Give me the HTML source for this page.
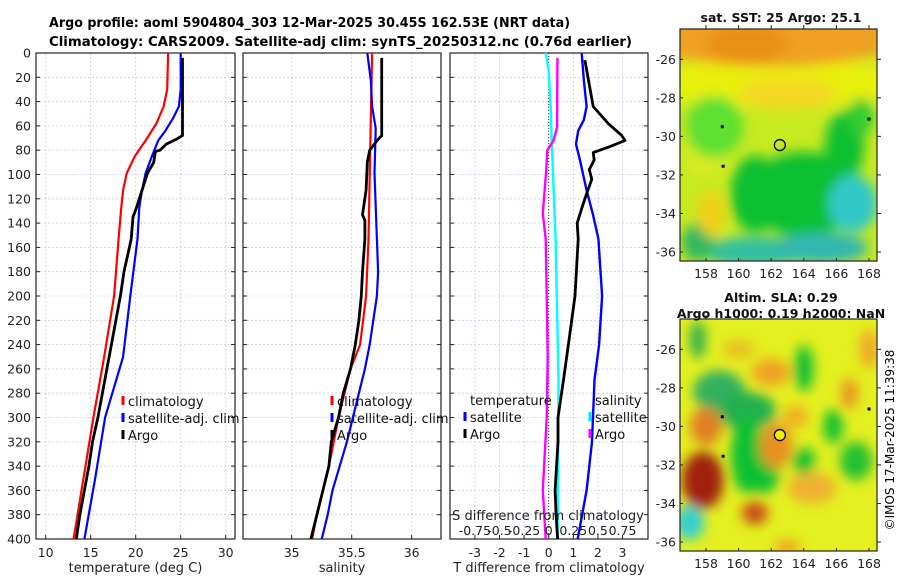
<!DOCTYPE html>
<html><head><meta charset="utf-8"><style>
html,body{margin:0;padding:0;background:#fff;}
svg{display:block;font-family:"DejaVu Sans","Liberation Sans",sans-serif;}
</style></head><body>
<svg id="fig" width="900" height="580" viewBox="0 0 900 580" xmlns="http://www.w3.org/2000/svg">
<defs>
<filter id="blur1" x="-20%" y="-20%" width="140%" height="140%"><feGaussianBlur stdDeviation="9"/></filter>
<filter id="blur2" x="-20%" y="-20%" width="140%" height="140%"><feGaussianBlur stdDeviation="6"/></filter>
<clipPath id="clipTop"><rect x="680" y="29" width="197" height="232"/></clipPath>
<clipPath id="clipBot"><rect x="680" y="319" width="197" height="232"/></clipPath>
</defs>
<text x="49" y="27" font-size="13" font-weight="bold" textLength="521" lengthAdjust="spacingAndGlyphs">Argo profile: aoml 5904804_303 12-Mar-2025 30.45S 162.53E (NRT data)</text>
<text x="49" y="46" font-size="13" font-weight="bold" textLength="583" lengthAdjust="spacingAndGlyphs">Climatology: CARS2009. Satellite-adj clim: synTS_20250312.nc (0.76d earlier)</text>
<g id="panels"></g>
<g id="maps"></g>
<text transform="translate(894,440) rotate(-90)" text-anchor="middle" font-size="12">©IMOS 17-Mar-2025 11:39:38</text>
</svg>
<script>
// ---------- data ----------
const depthTicks = [0,20,40,60,80,100,120,140,160,180,200,220,240,260,280,300,320,340,360,380,400];
const tempTicks = [10,15,20,25,30];
const salTicks = [35,35.5,36];
const tdiffTicks = [-3,-2,-1,0,1,2,3];
const sdiffTickLabels = ["-0.75","-0.5","-0.25","0","0.25","0.5","0.75"];
const sdiffTickValues = [-0.75,-0.5,-0.25,0,0.25,0.5,0.75];

const climTDepth = [0,30,44,58,72,85,99,113,127,153,200,250,300,350,400];
const climT      = [23.6,23.5,23.1,22.3,21.1,19.9,19.0,18.6,18.4,18.1,17.6,16.5,15.3,14.2,13.1];
const satTDepth  = [0,30,44,53,64,72,85,99,113,127,153,200,250,300,350,400];
const satT       = [25.0,25.0,24.8,24.2,23.3,22.5,21.8,21.1,20.7,20.4,20.2,19.4,18.6,16.6,15.5,14.3];
const argoTDepth = [4,68,71,75,80,81,90,99,113,127,135,153,160,180,200,220,240,260,280,300,320,340,360,380,400];
const argoT      = [25.2,25.2,24.5,23.4,22.7,22.2,22.0,21.3,20.7,20.1,19.7,19.5,19.3,18.7,18.3,17.8,17.3,16.8,16.3,15.8,15.2,14.8,14.3,13.8,13.4];

const climSDepth = [0,153,200,240,260,300,340,380,400];
const climS      = [35.67,35.64,35.62,35.57,35.49,35.39,35.31,35.21,35.17];
const satSDepth  = [0,23,44,62,99,153,180,200,220,240,260,280,300,320,340,360,380,400];
const satS       = [35.63,35.66,35.67,35.70,35.69,35.71,35.72,35.71,35.68,35.65,35.61,35.56,35.51,35.46,35.40,35.34,35.30,35.25];
const argoSDepth = [4,68,71,80,90,113,133,138,153,180,200,220,240,260,280,300,320,340,360,380,400];
const argoS      = [35.75,35.75,35.72,35.65,35.63,35.62,35.59,35.61,35.61,35.59,35.58,35.56,35.53,35.49,35.43,35.39,35.33,35.31,35.26,35.21,35.16];

const dTsatDepth = [0,23,44,55,64,75,88,113,132,153,200,240,269,320,360,400];
const dTsat      = [1.34,1.43,1.54,1.43,1.20,1.11,1.27,1.54,1.79,2.02,2.17,2.05,1.86,1.76,1.54,1.18];
const dTargoDepth = [6,44,58,68,72,77,82,88,96,104,117,128,140,153,200,240,269,300,320,360,380,400];
const dTargo      = [1.47,1.81,2.42,2.97,3.10,2.49,1.81,1.85,1.65,1.75,1.52,1.34,1.16,1.20,1.07,0.80,0.60,0.38,0.38,0.26,0.30,0.36];
const dSsatDepth = [0,15,44,72,153,269,400];
const dSsat      = [-0.03,0.0,0.02,0.03,0.07,0.10,0.09];
const dSargoDepth = [4,61,72,80,99,132,153,200,250,300,360,400];
const dSargo      = [0.088,0.085,0.05,-0.014,-0.027,-0.06,-0.03,-0.02,-0.01,-0.02,-0.06,-0.03];

// ---------- helpers ----------
const NS = "http://www.w3.org/2000/svg";
const Y0 = 53, Y1 = 539;
const yD = d => Y0 + (d/400)*(Y1-Y0);
function mk(tag, attrs, parent){ const e=document.createElementNS(NS,tag); for(const k in attrs) e.setAttribute(k,attrs[k]); parent.appendChild(e); return e; }
const panelsG = document.getElementById('panels');

const panels = [
  {name:'temperature-panel', x0:36, x1:235, fx:v=>45.7+(v-10)*9, ticks:tempTicks, title:'temperature (deg C)', showY:true},
  {name:'salinity-panel', x0:243, x1:441, fx:v=>291.7+(v-35)*120, ticks:salTicks, title:'salinity', showY:false},
  {name:'difference-panel', x0:450, x1:648, fx:v=>548.7+v*24.6, ticks:tdiffTicks, title:'T difference from climatology', showY:false}
];
panels.forEach(p=>{
  const g = mk('g',{},panelsG);
  
  
  depthTicks.forEach(d=>{ const l=mk('line',{x1:p.x0,x2:p.x1,y1:yD(d),y2:yD(d),stroke:'#c8cde8','stroke-width':0.8,'stroke-dasharray':'2,2'},g);
      });
  p.ticks.forEach(v=>{ const l=mk('line',{x1:p.fx(v),x2:p.fx(v),y1:Y0,y2:Y1,stroke:'#c8cde8','stroke-width':0.8,'stroke-dasharray':'2,2'},g);
      });
  depthTicks.forEach(d=>{ mk('line',{x1:p.x0,x2:p.x0+4,y1:yD(d),y2:yD(d),stroke:'#222'},g); mk('line',{x1:p.x1,x2:p.x1-4,y1:yD(d),y2:yD(d),stroke:'#222'},g);
    if(p.showY){ const t=mk('text',{x:31,y:yD(d)+4.5,'text-anchor':'end','font-size':12.5,fill:'#222'},g); t.textContent=d;
        } });
  p.ticks.forEach(v=>{ mk('line',{x1:p.fx(v),x2:p.fx(v),y1:Y1,y2:Y1-4,stroke:'#222'},g);
    const t=mk('text',{x:p.fx(v),y:557,'text-anchor':'middle','font-size':12.5,fill:'#222'},g); t.textContent=v;
      });
  const at=mk('text',{x:(p.x0+p.x1)/2,y:572,'text-anchor':'middle','font-size':13,fill:'#222'},g); at.textContent=p.title;
   
  const fr=mk('rect',{x:p.x0,y:Y0,width:p.x1-p.x0,height:Y1-Y0,fill:'none',stroke:'#222','stroke-width':1.2},g);
   
  p.g=g;
});
function line(g, depths, vals, fx, color, w, name){
  const pts = depths.map((d,i)=>fx(vals[i]).toFixed(1)+','+yD(d).toFixed(1)).join(' ');
  const e = mk('polyline',{points:pts,fill:'none',stroke:color,'stroke-width':w,'stroke-linejoin':'round'},g);
  
  
}
const [pT,pS,pD]=panels;
line(pT.g, climTDepth, climT, pT.fx, '#ff0000', 2.2, 'climatology-temperature-line');
line(pT.g, satTDepth, satT, pT.fx, '#0000ff', 2.2, 'satellite-temperature-line');
line(pT.g, argoTDepth, argoT, pT.fx, '#000', 2.8, 'argo-temperature-line');
line(pS.g, climSDepth, climS, pS.fx, '#ff0000', 2.2, 'climatology-salinity-line');
line(pS.g, satSDepth, satS, pS.fx, '#0000ff', 2.2, 'satellite-salinity-line');
line(pS.g, argoSDepth, argoS, pS.fx, '#000', 2.8, 'argo-salinity-line');
const zl=mk('line',{x1:pD.fx(0),x2:pD.fx(0),y1:Y0,y2:Y1,stroke:'#333','stroke-width':1,'stroke-dasharray':'1,2'},pD.g);
 
const fS = v=>548.7+v*98.4;
line(pD.g, dSsatDepth, dSsat, fS, '#00ffff', 2.4, 'satellite-salinity-diff-line');
line(pD.g, dSargoDepth, dSargo, fS, '#ff00ff', 2.4, 'argo-salinity-diff-line');
line(pD.g, dTsatDepth, dTsat, pD.fx, '#0000ff', 2.4, 'satellite-temperature-diff-line');
line(pD.g, dTargoDepth, dTargo, pD.fx, '#000', 2.8, 'argo-temperature-diff-line');
const sdl=mk('text',{x:548,y:520,'text-anchor':'middle','font-size':13,fill:'#222'},pD.g); sdl.textContent='S difference from climatology';
 
sdiffTickValues.forEach((v,i)=>{ const t=mk('text',{x:fS(v),y:535,'text-anchor':'middle','font-size':12.5,fill:'#222'},pD.g); t.textContent=sdiffTickLabels[i];
    });
function legend(g, x, y, color, label){
  const lg = mk('g',{},g);
  
  
  mk('rect',{x:x-1.5,y:y-10,width:3,height:9,fill:color},lg);
  const t=mk('text',{x:x+5,y:y,'font-size':13,fill:'#111'},lg); t.textContent=label;
}
legend(pT.g,123,406,'#ff0000','climatology'); legend(pT.g,123,423,'#0000ff','satellite-adj. clim'); legend(pT.g,123,440,'#000','Argo');
legend(pS.g,332,406,'#ff0000','climatology'); legend(pS.g,332,423,'#0000ff','satellite-adj. clim'); legend(pS.g,332,440,'#000','Argo');
const lt=mk('text',{x:470,y:405,'font-size':13,fill:'#111'},pD.g); lt.textContent='temperature';  
const ls=mk('text',{x:595,y:405,'font-size':13,fill:'#111'},pD.g); ls.textContent='salinity';  
legend(pD.g,465,422,'#0000ff','satellite'); legend(pD.g,465,439,'#000','Argo');
legend(pD.g,590,422,'#00e5ee','satellite'); legend(pD.g,590,439,'#ff00ff','Argo');

// ---------- maps ----------
const mapsG=document.getElementById('maps');
const latTicks=[-26,-28,-30,-32,-34,-36];
const lonTicks=[158,160,162,164,166,168];
const sstBlobs=[
 [162.5,-27.2,8,1.3,'#e8f010'],[162,-24.8,8,1.6,'#f0a020'],[160.5,-25.2,2.5,1,'#e89018'],[163,-27.8,3,0.8,'#f4d820'],[158,-30,1.5,2,'#d8ec20'],
 [158.5,-29.5,1.8,1.6,'#5ee030'],[164,-33,3.5,2.2,'#10c030'],[161,-33,1.5,2,'#10c030'],[166.5,-30.5,1.2,1.8,'#10c030'],
 [167.5,-29,0.8,1,'#30cc30'],[167,-33.5,1.5,1.5,'#30c8c8'],[161,-36,3,0.8,'#30c0a0'],[165,-35.8,3,0.8,'#30b8b0'],[157.5,-35.5,1,1,'#30b860'],
 [158.3,-34,0.8,1.2,'#f0d018']];
const slaBlobs=[
 [158.8,-28.2,1.6,1.1,'#30b060'],[160.5,-29.2,1.8,1,'#20b050'],[160.5,-31.5,1,2,'#10c030'],[161.5,-32.5,1,1,'#10c030'],[164,-27,0.6,1.2,'#10c030'],[165.8,-30,0.6,0.9,'#10c030'],
 [164,-31.8,0.7,0.7,'#10c030'],[167.2,-31.8,1,1,'#20c030'],[157,-35,0.9,0.9,'#30d0d0'],[157.5,-25.5,0.5,1,'#30b050'],
 [157.8,-32.8,1.3,1.5,'#a02010'],[158,-30,1,1,'#e08020'],[162.3,-31,1,1.2,'#e89020'],[162,-27.2,1.2,0.7,'#f0a020'],[163.5,-29.5,0.8,0.6,'#f0b020'],
 [161,-34.5,0.8,0.6,'#c84818'],[164.5,-33.2,1.5,0.8,'#f0b030'],[166.8,-28.3,0.5,0.8,'#e89020'],[168,-26,0.6,1,'#f0a828'],[160,-26,1,0.5,'#e8c020'],[163,-36.3,0.8,0.4,'#f0a020']];
function drawMap(top, base, blobs, clip, name, titles, fillCircle){
  const g=mk('g',{},mapsG);
  
  
  const x0=680,x1=877,y1=top+232;
  const fx=lon=>706+(lon-158)*16.3;
  const yref=top+30.3;
  const fy=lat=>yref+(-26-lat)*19.27;
  const ig=mk('g',{'clip-path':'url(#'+clip+')'},g);
  mk('rect',{x:x0,y:top,width:197,height:232,fill:base},ig);
  const bg=mk('g',{filter:'url(#blur2)'},ig);
  blobs.forEach(b=>{ const e=mk('ellipse',{cx:fx(b[0]),cy:fy(b[1]),rx:b[2]*16.3,ry:b[3]*19.27,fill:b[4]},bg);
      });
  [[159,-29.5],[159.05,-31.55],[168,-29.1]].forEach(p=>mk('rect',{x:fx(p[0])-1.5,y:fy(p[1])-1.5,width:3,height:3,fill:'#000'},ig));
  const c=mk('circle',{cx:fx(162.53),cy:fy(-30.45),r:5.5,fill:fillCircle,stroke:'#000','stroke-width':1.3},g);
   
  const fr=mk('rect',{x:x0,y:top,width:197,height:232,fill:'none',stroke:'#222','stroke-width':1.2},g);
   
  latTicks.forEach(l=>{ mk('line',{x1:x0,x2:x0+3,y1:fy(l),y2:fy(l),stroke:'#222'},g); mk('line',{x1:x1,x2:x1+4,y1:fy(l),y2:fy(l),stroke:'#222'},g);
    const t=mk('text',{x:676,y:fy(l)+4.5,'text-anchor':'end','font-size':12.5,fill:'#222'},g); t.textContent=l;
      });
  lonTicks.forEach(l=>{ mk('line',{x1:fx(l),x2:fx(l),y1:y1,y2:y1-3,stroke:'#222'},g); mk('line',{x1:fx(l),x2:fx(l),y1:top,y2:top-4,stroke:'#222'},g);
    const t=mk('text',{x:fx(l),y:y1+17,'text-anchor':'middle','font-size':12.5,fill:'#222'},g); t.textContent=l;
      });
  titles.forEach(tt=>{ const t=mk('text',{x:tt[0],y:tt[1],'text-anchor':'middle','font-size':12.5,'font-weight':'bold',fill:'#111'},g); t.textContent=tt[2];
      });
}
drawMap(29,'#c8ea20',sstBlobs,'clipTop','sst-map',[[781,22,'sat. SST: 25 Argo: 25.1']],'none');
drawMap(319,'#e4f020',slaBlobs,'clipBot','sla-map',[[781,302,'Altim. SLA: 0.29'],[781,318,'Argo h1000: 0.19 h2000: NaN']],'#f0f000');
</script>
</body></html>
